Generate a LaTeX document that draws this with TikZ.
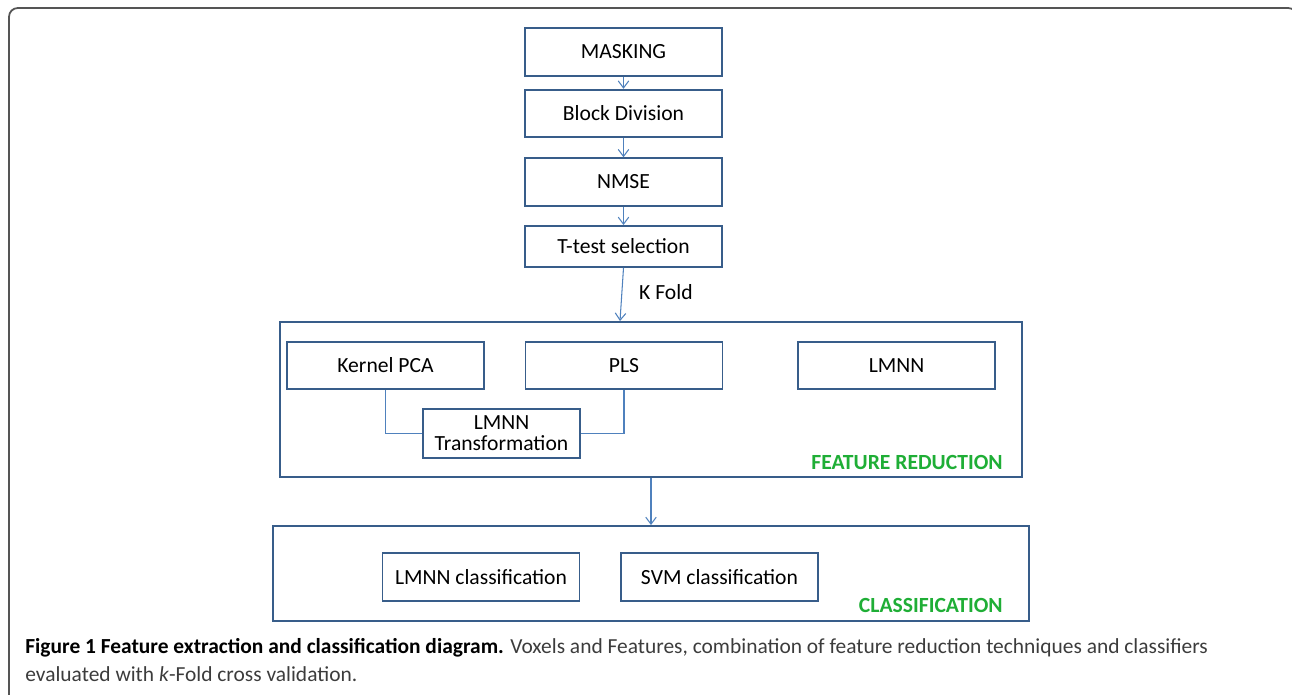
\documentclass[tikz,border=0pt]{standalone}
\usepackage{fontspec}
\setmainfont{Carlito}
\usepackage{tikz}
\usetikzlibrary{arrows.meta}

\definecolor{boxblue}{RGB}{56,93,138}
\definecolor{linkblue}{RGB}{79,129,189}
\definecolor{labgreen}{RGB}{31,174,54}
\definecolor{framegray}{RGB}{85,85,85}
\definecolor{capgray}{RGB}{60,60,60}

\begin{document}
\begin{tikzpicture}[x=0.02cm, y=-0.02cm,
		stepbox/.style={draw=boxblue, line width=1.1pt, minimum width=3.94cm,
			minimum height=0.95cm, inner sep=0pt, align=center,
			font=\fontsize{12.3}{13}\selectfont},
		groupbox/.style={draw=boxblue, line width=1.1pt, inner sep=0pt},
		flow/.style={draw=linkblue, line width=0.6pt, -{Straight Barb[length=4pt, width=6pt]}},
		link/.style={draw=linkblue, line width=0.6pt},
		grouplabel/.style={anchor=east, inner sep=0pt, text=labgreen, font=\fontsize{12.3}{13}\selectfont\bfseries}]
		\useasboundingbox (0,0) rectangle (1292,694);
		
		% Figure frame
		\draw[framegray, line width=1pt, rounded corners=5pt] (9,8) rectangle (1297,760);
		
		% Preprocessing chain
		\node[stepbox] (mask) at (623.5,52) {MASKING};
		\node[stepbox] (blockdiv) at (623.5,113.5) {Block Division};
		\node[stepbox] (nmse) at (623.5,182) {NMSE};
		\node[stepbox, minimum height=0.82cm] (ttest) at (623.5,246.5) {T-test selection};
		
		\draw[flow] (mask) -- (blockdiv);
		\draw[flow] (blockdiv) -- (nmse);
		\draw[flow] (nmse) -- (ttest);
		
		% Feature reduction group
		\node[groupbox, minimum width=14.84cm, minimum height=3.1cm] (featred) at (651,399.5) {};
		\node[stepbox] (kpca) at (385.5,365.5) {Kernel PCA};
		\node[stepbox] (pls) at (624,365.5) {PLS};
		\node[stepbox] (lmnn) at (896.5,365.5) {LMNN};
		\node[stepbox, minimum width=3.14cm, minimum height=0.98cm] (lmnnt) at (501.5,433.5) {LMNN\\[-1pt]Transformation};
		\node[grouplabel] (frlabel) at (1003,462) {FEATURE REDUCTION};
		
		\draw[link] (kpca.south) |- (lmnnt.west);
		\draw[link] (pls.south) |- (lmnnt.east);
		
		\draw[flow] (ttest.south) -- ([xshift=-0.07cm]ttest.south |- featred.north);
		\node[anchor=west, font=\fontsize{12.3}{13}\selectfont] (kfold) at (633,292) {K Fold};
		
		% Classification group
		\node[groupbox, minimum width=15.12cm, minimum height=1.9cm] (classif) at (651,573.5) {};
		\node[stepbox] (lmnncls) at (481,577) {LMNN classification};
		\node[stepbox] (svmcls) at (719.5,577) {SVM classification};
		\node[grouplabel] (cllabel) at (1003,605) {CLASSIFICATION};
		
		\draw[flow] (featred) -- (classif);
		
		% Caption
		\node[anchor=north west, align=left, inner sep=0pt, text=capgray,
			font=\fontsize{12.2}{16}\selectfont] (caption) at (25,638)
			{\textcolor{black}{\bfseries Figure 1 Feature extraction and classification diagram.} Voxels and Features, combination of feature reduction techniques and classifiers\\
			evaluated with \textit{k}-Fold cross validation.};
	\end{tikzpicture}
\end{document}
